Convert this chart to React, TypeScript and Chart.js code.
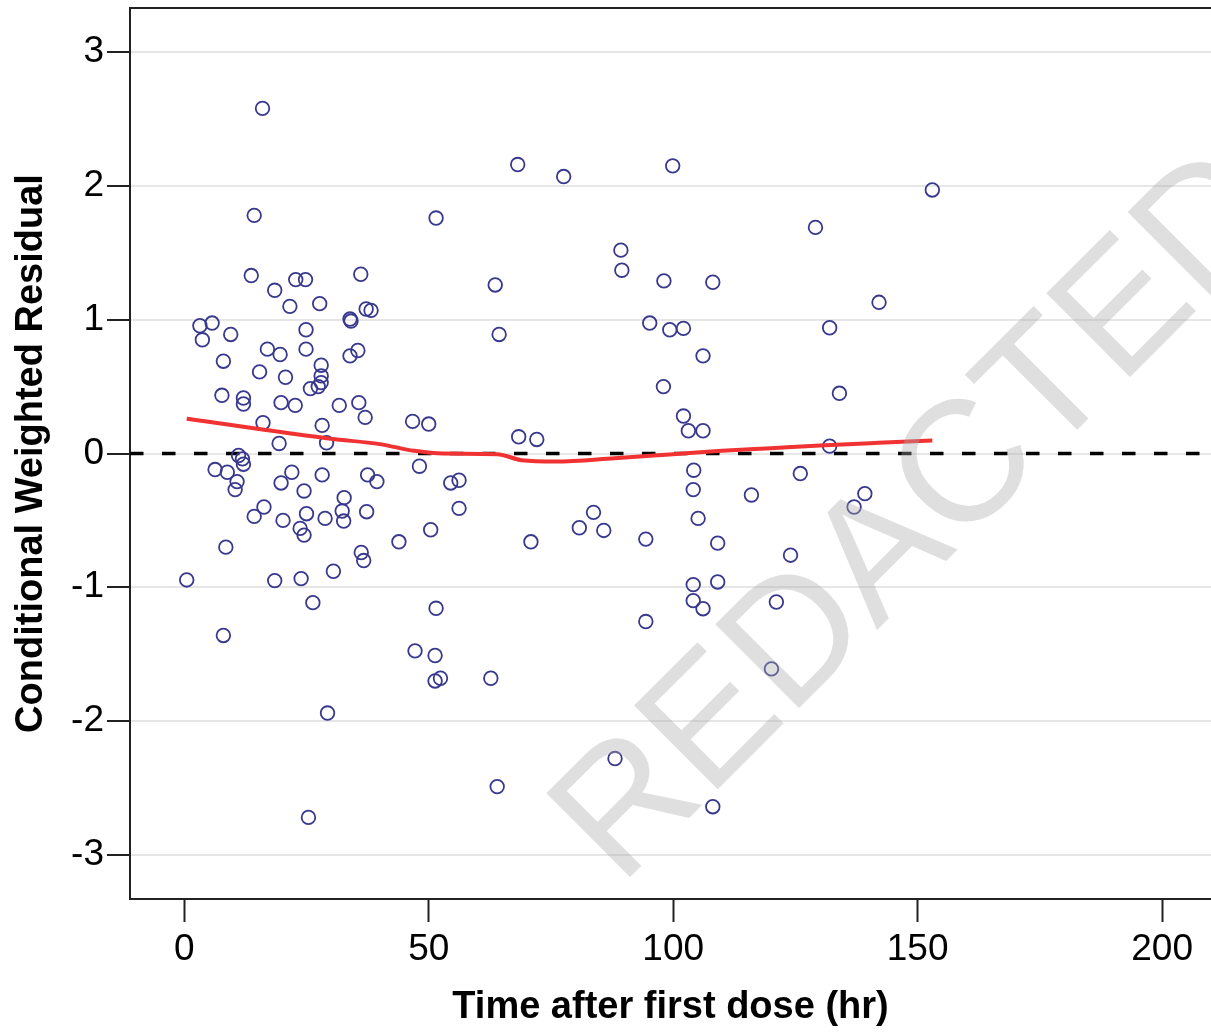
import React, { useEffect, useRef } from "react";
import { Chart, registerables } from "chart.js";

Chart.register(...registerables);

// Observations: time after first dose (hr) and conditional weighted residual
const timeHr: number[] = [
  16.0, 14.3, 13.7, 18.5, 22.8, 24.8, 21.6, 27.7, 36.1, 33.9, 34.1, 37.2, 38.2, 3.2, 5.7, 3.7, 9.5, 24.9, 8.0, 17.0,
  19.6, 24.9, 28.0, 33.9, 35.5, 15.4, 20.7, 28.0, 28.0, 27.4, 25.8, 7.7, 12.1, 12.1, 19.8, 22.7, 31.7, 35.7, 37.0, 16.1,
  28.2, 19.4, 29.1, 11.1, 11.9, 12.1, 6.3, 8.8, 10.8, 10.4, 22.0, 19.8, 24.5, 28.2, 32.7, 37.5, 39.4, 16.3, 14.3, 20.2,
  25.0, 23.7, 24.5, 28.8, 32.3, 32.6, 37.3, 8.5, 43.9, 36.2, 36.7, 30.5, 0.5, 18.5, 23.9, 26.3, 8.0, 29.3, 25.4,
  68.2, 77.6, 99.9, 51.5, 89.3, 89.5, 98.1, 63.6, 64.4, 95.2, 99.3, 98.0, 46.7, 50.0, 68.4, 72.1, 48.1, 54.5, 56.2,
  56.2, 50.4, 70.9, 80.8, 83.7, 85.8, 94.4, 51.5, 94.4, 47.2, 51.3, 51.3, 52.4, 62.7, 88.1, 64.0,
  153.0, 129.1, 108.1, 142.1, 102.1, 132.0, 106.1, 134.0, 102.1, 103.1, 106.1, 132.0, 104.2, 126.0,
  104.1, 116.0, 139.2, 137.0, 105.1, 109.1, 124.0, 104.1, 104.1, 106.1, 109.1, 121.1, 120.1, 108.1,
];
const cwres: number[] = [
  2.58, 1.78, 1.33, 1.22, 1.3, 1.3, 1.1, 1.12, 1.34, 1.005, 0.99, 1.08, 1.07, 0.955, 0.975, 0.85, 0.89, 0.925, 0.69, 0.78,
  0.74, 0.78, 0.66, 0.73, 0.77, 0.61, 0.57, 0.58, 0.53, 0.5, 0.485, 0.435, 0.415, 0.37, 0.38, 0.36, 0.36, 0.38, 0.27, 0.23,
  0.21, 0.075, 0.08, -0.015, -0.04, -0.08, -0.12, -0.14, -0.21, -0.27, -0.14, -0.22, -0.28, -0.16, -0.33, -0.16, -0.21, -0.4, -0.47, -0.5,
  -0.45, -0.56, -0.61, -0.485, -0.43, -0.505, -0.435, -0.7, -0.66, -0.74, -0.8, -0.88, -0.945, -0.95, -0.935, -1.115, -1.36, -1.94, -2.72,
  2.16, 2.07, 2.15, 1.76, 1.52, 1.37, 1.29, 1.26, 0.89, 0.975, 0.925, 0.5, 0.24, 0.22, 0.125, 0.105, -0.095, -0.22, -0.2,
  -0.41, -0.57, -0.66, -0.555, -0.44, -0.575, -0.64, -1.157, -1.256, -1.475, -1.51, -1.7, -1.68, -1.68, -2.28, -2.49,
  1.97, 1.69, 1.28, 1.13, 0.935, 0.94, 0.73, 0.45, 0.28, 0.17, 0.17, 0.055, -0.125, -0.15,
  -0.27, -0.31, -0.3, -0.4, -0.485, -0.67, -0.76, -0.98, -1.1, -1.16, -0.96, -1.11, -1.61, -2.64,
];

// Smoother (red)
const smoothX: number[] = [0.5, 16, 30, 40, 47, 53, 64, 69, 76, 88, 100, 110, 120, 130, 142, 153];
const smoothY: number[] = [0.26, 0.18, 0.11, 0.07, 0.02, 0.0, -0.005, -0.05, -0.06, -0.035, -0.005, 0.02, 0.04, 0.06, 0.08, 0.097];

// Axis settings
const X_MIN = -11.1;
const X_MAX = 210;
const Y_MIN = -3.33;
const Y_MAX = 3.33;
const xTicks: number[] = [0, 50, 100, 150, 200];
const yTicks: number[] = [-3, -2, -1, 0, 1, 2, 3];
const refLineY = 0;

const X_TITLE = "Time after first dose (hr)";
const Y_TITLE = "Conditional Weighted Residual";
const WATERMARK = "REDACTED";

export default function App() {
  const ref = useRef<HTMLCanvasElement | null>(null);

  useEffect(() => {
    if (!ref.current) return;
    const points = timeHr.map((t, i) => ({ x: t, y: cwres[i] }));
    const smooth = smoothX.map((t, i) => ({ x: t, y: smoothY[i] }));
    const zero = [
      { x: X_MIN, y: refLineY },
      { x: X_MAX, y: refLineY },
    ];

    const framePlugin = {
      id: "frameTop",
      afterDraw(chart: any) {
        const { ctx, chartArea } = chart;
        ctx.save();
        ctx.strokeStyle = "#222";
        ctx.lineWidth = 2;
        ctx.beginPath();
        ctx.moveTo(chartArea.left, chartArea.top);
        ctx.lineTo(chartArea.right, chartArea.top);
        ctx.stroke();
        // watermark overlay
        ctx.translate(620, 887);
        ctx.rotate(-Math.PI / 4);
        ctx.font = "172px 'Liberation Sans', Arial, sans-serif";
        ctx.fillStyle = "rgba(170,170,170,0.38)";
        ctx.textBaseline = "alphabetic";
        ctx.textAlign = "left";
        ctx.fillText(WATERMARK, 0, 0);
        ctx.restore();
      },
    };

    const tickFont = { family: "'Liberation Sans', Arial, sans-serif", size: 37 };
    const titleFont = { family: "'Liberation Sans', Arial, sans-serif", size: 38, weight: "bold" as const };

    const chart = new Chart(ref.current, {
      type: "scatter",
      data: {
        datasets: [
          {
            label: "smooth",
            data: smooth,
            showLine: true,
            borderColor: "#f03232",
            borderWidth: 4,
            pointRadius: 0,
            cubicInterpolationMode: "monotone",
            order: 0,
          } as any,
          {
            label: "CWRES",
            data: points,
            showLine: false,
            pointRadius: 6.8,
            pointStyle: "circle",
            borderColor: "#38388e",
            backgroundColor: "rgba(0,0,0,0)",
            borderWidth: 1.8,
            order: 1,
          },
          {
            label: "zero",
            data: zero,
            showLine: true,
            borderColor: "#000",
            borderWidth: 3.5,
            borderDash: [13.5, 18.5],
            pointRadius: 0,
            order: 2,
          } as any,
        ],
      },
      options: {
        animation: false,
        responsive: false,
        layout: { autoPadding: false, padding: { top: 8, left: 0, right: 0, bottom: 0 } },
        plugins: { legend: { display: false }, tooltip: { enabled: false } },
        scales: {
          x: {
            type: "linear",
            min: X_MIN,
            max: X_MAX,
            afterBuildTicks: (s: any) => {
              s.ticks = xTicks.map((v) => ({ value: v }));
            },
            afterFit: (s: any) => {
              s.height = 133;
              s.paddingLeft = 0;
              s.paddingRight = 0;
            },
            ticks: { font: tickFont, color: "#000", padding: 6, includeBounds: false, maxRotation: 0 },
            grid: { drawOnChartArea: false, drawTicks: true, tickLength: 23, tickColor: "#222", tickWidth: 2 },
            border: { color: "#222", width: 2 },
            title: { display: true, text: X_TITLE, font: titleFont, color: "#000", padding: { top: 0, bottom: 2 } },
          },
          y: {
            type: "linear",
            min: Y_MIN,
            max: Y_MAX,
            afterBuildTicks: (s: any) => {
              s.ticks = yTicks.map((v) => ({ value: v }));
            },
            afterFit: (s: any) => {
              s.width = 130;
              s.paddingTop = 0;
              s.paddingBottom = 0;
            },
            ticks: { font: tickFont, color: "#000", padding: 3, includeBounds: false },
            grid: { color: "#e6e6e6", lineWidth: 2, drawTicks: true, tickLength: 23, tickColor: "#222", tickWidth: 2 },
            border: { color: "#222", width: 2 },
            title: { display: true, text: Y_TITLE, font: titleFont, color: "#000", padding: { top: 9, bottom: 0 } },
          },
        },
      },
      plugins: [framePlugin],
    });
    return () => chart.destroy();
  }, []);

  return (
    <div style={{ position: "fixed", left: 0, top: 0, width: 1211, height: 1032, background: "#fff" }}>
      <canvas ref={ref} width={1211} height={1032} style={{ display: "block" }} />
    </div>
  );
}
